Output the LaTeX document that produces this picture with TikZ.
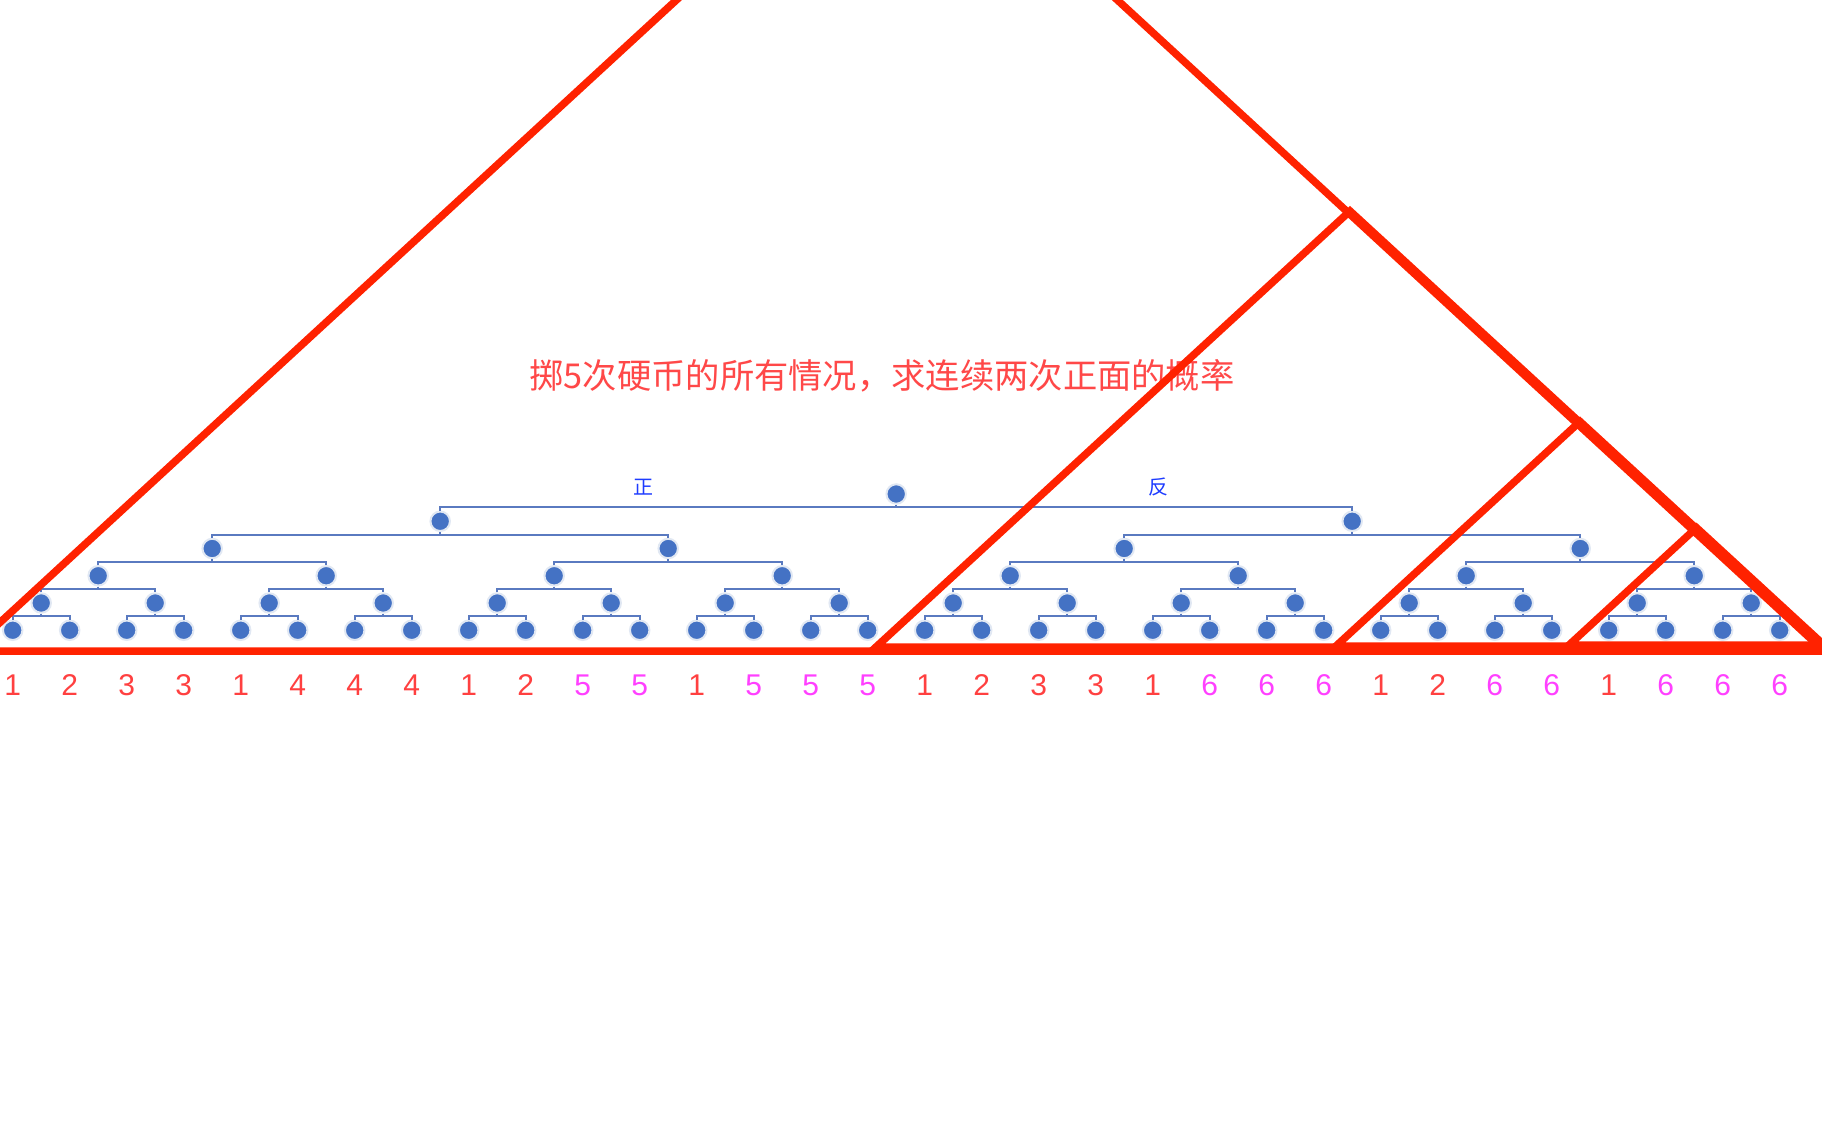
\documentclass[tikz,border=0pt]{standalone}
\usepackage{fontspec}
\setmainfont{Liberation Sans}
\newfontfamily\cjk{Noto Sans CJK SC}
\definecolor{trired}{RGB}{255,34,0}
\definecolor{dotblue}{RGB}{68,114,196}
\definecolor{halo}{RGB}{225,232,243}
\definecolor{connblue}{RGB}{90,122,192}
\definecolor{numA}{RGB}{255,64,64}
\definecolor{numB}{RGB}{255,64,255}
\definecolor{titlered}{RGB}{255,72,72}
\definecolor{sideblue}{RGB}{30,60,255}
\begin{document}
\begin{tikzpicture}[x=1pt,y=-1pt,
  dot/.style={circle,fill=dotblue,draw=halo,line width=2pt,minimum size=19.5pt,inner sep=0pt},
  conn/.style={draw=connblue,line width=2pt},
  numlab/.style={font=\fontsize{30}{34}\selectfont,inner sep=0pt},
  sidelab/.style={font=\cjk\fontsize{20}{24}\selectfont,text=sideblue,inner sep=0pt},
  titlelab/.style={font=\cjk\fontsize{34.3}{40}\selectfont,text=titlered,inner sep=0pt},
  tri/.style={draw=trired,line width=7.5pt,line join=miter}]
\fill[white] (0,0) rectangle (1822,1125);
\useasboundingbox (0,0) rectangle (1822,1125);
\clip (0,0) rectangle (1822,1125);
% tree nodes
\foreach \k in {0,...,5}{
  \pgfmathtruncatemacro\cnt{2^\k-1}
  \foreach \j in {0,...,\cnt}{
    \pgfmathsetmacro\xx{12.7+57*(\j*2^(5-\k)+(2^(5-\k)-1)/2)}
    \pgfmathsetmacro\yy{494+27.25*\k}
    \node[dot] (n-\k-\j) at (\xx,\yy) {};
  }
}
% connectors
\foreach \k in {0,...,4}{
  \pgfmathtruncatemacro\cnt{2^\k-1}
  \pgfmathtruncatemacro\kk{\k+1}
  \foreach \j in {0,...,\cnt}{
    \pgfmathtruncatemacro\ja{2*\j}
    \pgfmathtruncatemacro\jb{2*\j+1}
    \draw[conn] (n-\k-\j.south) -- ++(0,2.7) coordinate (bar-\k-\j);
    \draw[conn] (n-\kk-\ja.north) |- (bar-\k-\j) -| (n-\kk-\jb.north);
  }
}
% branch labels
\node[sidelab] (zheng) at (643,487) {正};
\node[sidelab] (fan) at (1158,487) {反};
% title
\node[titlelab] (title) at (882,376) {掷5次硬币的所有情况，求连续两次正面的概率};
% leaf numbers
\foreach \v [count=\i from 0] in {1,2,3,3,1,4,4,4,1,2,5,5,1,5,5,5,1,2,3,3,1,6,6,6,1,2,6,6,1,6,6,6}{
  \ifnum\v>4 \def\cc{numB}\else\def\cc{numA}\fi
  \node[numlab,text=\cc] (lab-\i) at ({12.7+57*\i},685) {\v};
}
% red triangles
\draw[tri] (-31,651) -- (897,-203) -- (1824,651) -- cycle;
\draw[tri] (876,647) -- (1350,211) -- (1824,647) -- cycle;
\draw[tri] (1336,646) -- (1580,421.5) -- (1824,646) -- cycle;
\draw[tri] (1569,645) -- (1696.5,527.7) -- (1824,645) -- cycle;
\end{tikzpicture}
\end{document}
